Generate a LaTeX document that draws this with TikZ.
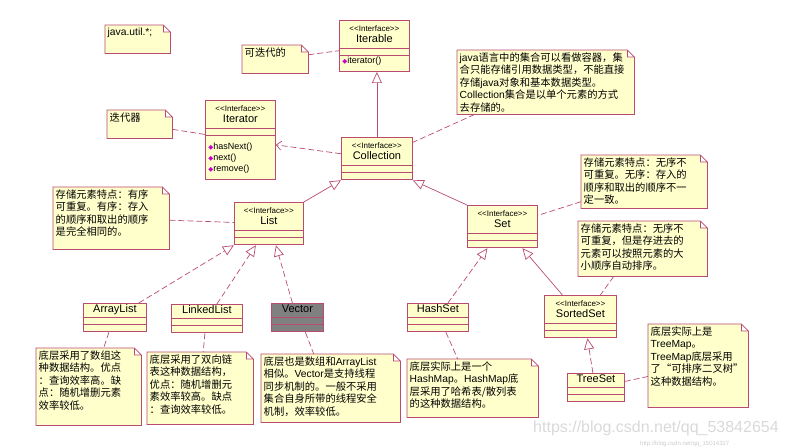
\documentclass[tikz,border=0pt]{standalone}
\usepackage{fontspec}
\setmainfont{Liberation Sans}
\newfontfamily\cjk{Noto Sans CJK SC}
\newfontfamily\symf{DejaVu Sans}
\usetikzlibrary{arrows.meta,calc,positioning,shapes.multipart,backgrounds}

\definecolor{umlline}{RGB}{185,75,115}
\definecolor{umlfill}{RGB}{255,255,204}
\definecolor{opmark}{RGB}{200,0,200}
\definecolor{vecfill}{RGB}{128,128,128}

\newcommand{\latw}[1]{{\rmfamily #1}}
\newcommand{\umliface}[1]{\begin{tabular}{@{}c@{}}\rule{0pt}{10pt}{\fontsize{8}{9}\selectfont <{}<Interface>{}>}\\[-1.5pt]#1\rule[-5pt]{0pt}{5pt}\end{tabular}}
\newcommand{\umlname}[1]{\rule[-4.5pt]{0pt}{12.5pt}#1}
\newcommand{\umlop}[1]{{\symf\fontsize{6.5}{6.5}\selectfont\textcolor{opmark}{◆}}#1}

\begin{document}
\begin{tikzpicture}[
  x=1pt,
  y=-1pt,
  font=\fontsize{11}{13}\selectfont,
  cls/.style={rectangle split, rectangle split parts=3, rectangle split part align={center,left,left},
    rectangle split empty part height=5pt, rectangle split empty part depth=0pt,
    draw=umlline, fill=umlfill, line width=0.8pt, inner xsep=3pt, inner ysep=0.5pt, anchor=north west},
  note/.style n args={2}{inner sep=2.5pt, anchor=north west, font=\cjk\fontsize{10.3}{12.5}\selectfont,
    execute at begin node={\begin{minipage}[c][#2][t]{#1}}, execute at end node={\end{minipage}}},
  notedraw/.style={draw=umlline, fill=umlfill, line width=0.8pt},
  link/.style={draw=umlline, line width=0.7pt, dash pattern=on 6pt off 3pt},
  gen/.style={draw=umlline, line width=0.7pt, -{Triangle[length=11pt, width=10pt, fill=white]}},
  real/.style={gen, dash pattern=on 6pt off 3pt},
  dep/.style={link, -{Straight Barb[length=5pt, width=9pt]}}
]
  \useasboundingbox (0,0) rectangle (786,447);

  \node[cls, minimum width=70pt] (iterable) at (339,20) {\umliface{Iterable}\nodepart{second}\nodepart{third}\fontsize{9}{11}\selectfont\rule[-7pt]{0pt}{14pt}\umlop{iterator()}};
  \node[cls, minimum width=70pt] (iterator) at (205,100) {\umliface{Iterator}\nodepart{second}\nodepart{third}\fontsize{9}{11}\selectfont\begin{tabular}{@{}l@{}}\rule{0pt}{13pt}\umlop{hasNext()}\\\umlop{next()}\\\umlop{remove()}\rule[-7pt]{0pt}{7pt}\end{tabular}};
  \node[cls, minimum width=71pt] (collection) at (341,137) {\umliface{Collection}};
  \node[cls, minimum width=69pt] (list) at (234,202) {\umliface{List}};
  \node[cls, minimum width=70pt] (set) at (467,205) {\umliface{Set}};
  \node[cls, minimum width=72pt] (sortedset) at (544,295) {\umliface{SortedSet}};

  \node[cls, minimum width=63pt] (arraylist) at (83,303) {\umlname{ArrayList}};
  \node[cls, minimum width=71pt] (linkedlist) at (171,304) {\umlname{LinkedList}};
  \node[cls, minimum width=52pt, fill=vecfill] (vector) at (271,303) {\umlname{Vector}};
  \node[cls, minimum width=61pt] (hashset) at (407,303) {\umlname{HashSet}};
  \node[cls, minimum width=57pt] (treeset) at (567,373) {\umlname{TreeSet}};

  \node[note={60pt}{23pt}] (nutil) at (105,25) {\latw{java.util.*;}};
  \node[note={61pt}{23pt}] (nable) at (242,45) {可迭代的};
  \node[note={172pt}{59pt}] (njava) at (457,50) {\latw{java}语言中的集合可以看做容器，集\\合只能存储引用数据类型，不能直接\\存储\latw{java}对象和基本数据类型。\\\latw{Collection}集合是以单个元素的方式\\去存储的。};
  \node[note={60pt}{23pt}] (niter) at (107,110) {迭代器};
  \node[note={111pt}{57pt}] (nlist) at (53,187) {存储元素特点：有序\\可重复。有序：存入\\的顺序和取出的顺序\\是完全相同的。};
  \node[note={121pt}{48pt}] (nset) at (581,155) {存储元素特点：无序不\\可重复。无序：存入的\\顺序和取出的顺序不一\\定一致。};
  \node[note={124pt}{50pt}] (nsorted) at (578,221) {存储元素特点：无序不\\可重复，但是存进去的\\元素可以按照元素的大\\小顺序自动排序。};
  \node[note={100pt}{72pt}] (narray) at (36,348) {底层采用了数组这\\种数据结构。优点\\：查询效率高。缺\\点：随机增删元素\\效率较低。};
  \node[note={101pt}{67pt}] (nlinked) at (147,352) {底层采用了双向链\\表这种数据结构，\\优点：随机增删元\\素效率较高。缺点\\：查询效率较低。};
  \node[note={134pt}{63pt}] (nvector) at (261,354) {底层也是数组和\latw{ArrayList}\\相似。\latw{Vector}是支持线程\\同步机制的。一般不采用\\集合自身所带的线程安全\\机制，效率较低。};
  \node[note={126pt}{53pt}] (nhash) at (407,359) {底层实际上是一个\\\latw{HashMap}。\latw{HashMap}底\\层采用了哈希表/散列表\\的这种数据结构。};
  \node[note={95pt}{78pt}] (ntree) at (648,324) {底层实际上是\\\latw{TreeMap}。\\\latw{TreeMap}底层采用\\了“可排序二叉树”\\这种数据结构。};

  \begin{scope}[on background layer]
    \foreach \n in {nutil,nable,njava,niter,nlist,nset,nsorted,narray,nlinked,nvector,nhash,ntree}
      \filldraw[notedraw] (\n.north west) -- ($(\n.north east)+(-7,0)$) -- ($(\n.north east)+(0,7)$)
        -- (\n.south east) -- (\n.south west) -- cycle
        ($(\n.north east)+(-7,0)$) -- ($(\n.north east)+(-7,7)$) -- ($(\n.north east)+(0,7)$);
  \end{scope}

  \draw[gen] (collection.north) -- (collection.north |- iterable.south);
  \draw[gen] (list.north east) -- (collection.south west);
  \draw[gen] (set.north west) -- (collection.south east);
  \draw[gen] ($(sortedset.north)+(-18,0)$) -- ($(set.south)+(20,0)$);

  \draw[real] ($(arraylist.north east)+(-8,0)$) -- ($(list.south)+(-35,0)$);
  \draw[real] ($(linkedlist.north)+(10,0)$) -- ($(list.south)+(-13,0)$);
  \draw[real] ($(vector.north)+(-5,0)$) -- ($(list.south)+(7,0)$);
  \draw[real] ($(hashset.north)+(10,0)$) -- ($(set.south)+(-15,0)$);
  \draw[real] ($(treeset.north)+(-3,0)$) -- ($(sortedset.south)+(7,0)$);

  \draw[dep] (collection) -- (iterator);

  \draw[link] (nable) -- (iterable);
  \draw[link] (njava) -- (collection);
  \draw[link] (niter) -- (iterator);
  \draw[link] (nlist) -- (list);
  \draw[link] (nset) -- (set);
  \draw[link] ($(nsorted.south)+(-29,0)$) -- ($(sortedset.north)+(20,0)$);
  \draw[link] ($(arraylist.south)+(-6,0)$) -- ($(narray.north)+(15,0)$);
  \draw[link] ($(linkedlist.south)+(-2,0)$) -- ($(nlinked.north)+(3,0)$);
  \draw[link] ($(vector.south)+(8,0)$) -- ($(nvector.north)+(-17,0)$);
  \draw[link] ($(hashset.south)+(8,0)$) -- ($(nhash.north)+(-15,0)$);
  \draw[link] (treeset) -- (ntree);

  \node[anchor=base west, text=gray!30, font=\fontsize{16}{18}\selectfont, inner sep=0pt] (wmark) at (533,432) {https://blog.csdn.net/qq\_53842654};
  \node[anchor=base west, text=gray!40, font=\fontsize{6}{7}\selectfont, inner sep=0pt] (wsmall) at (640,445) {http://blog.csdn.net/qq\_15014327};
\end{tikzpicture}
\end{document}
